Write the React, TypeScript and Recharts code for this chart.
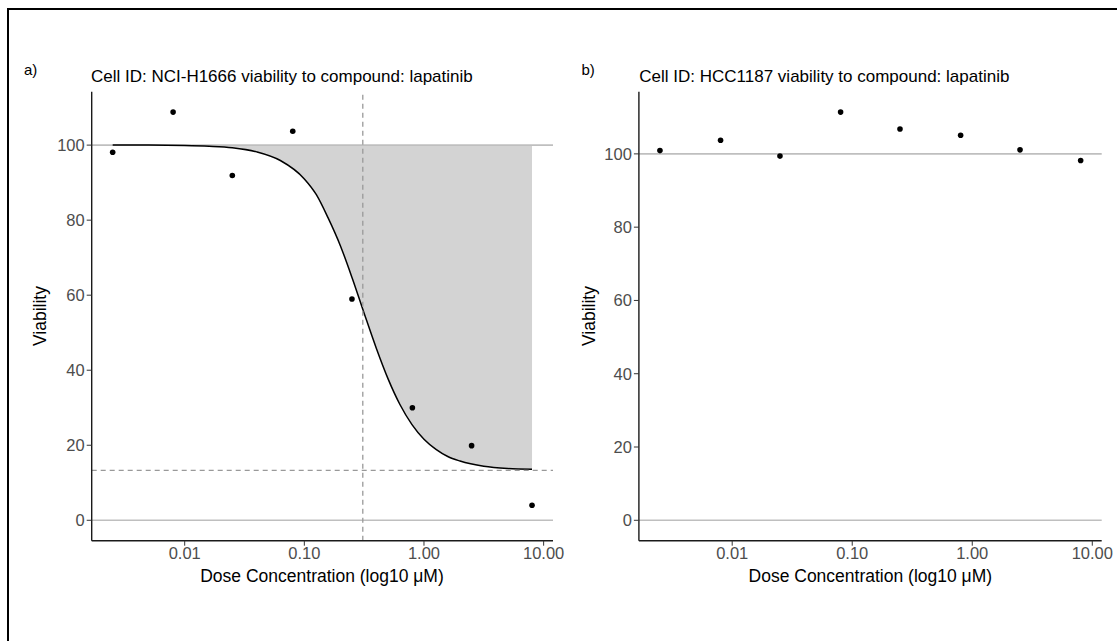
import {
  ComposedChart,
  Line,
  Area,
  Scatter,
  XAxis,
  YAxis,
  ReferenceLine,
} from 'recharts';

// doses in µM, same plate layout for both cell lines
const doses = [0.0025, 0.008, 0.025, 0.08, 0.25, 0.8, 2.5, 8];
const viabilityH1666 = [98.1, 108.8, 91.9, 103.7, 59.0, 30.0, 19.9, 4.0];
const viabilityHCC1187 = [100.9, 103.7, 99.4, 111.4, 106.8, 105.1, 101.1, 98.2];

// fitted curve for NCI-H1666
const fitDoses = [
  0.0025, 0.005, 0.01, 0.016, 0.025, 0.04, 0.063, 0.1, 0.126, 0.158, 0.2, 0.251,
  0.316, 0.398, 0.501, 0.631, 0.794, 1, 1.26, 1.58, 2, 3.16, 5.01, 8,
];
const fitH1666 = [
  100.0, 100.0, 99.9, 99.7, 99.3, 98.2, 95.9, 91.0, 86.8, 80.6, 73.2, 64.6,
  55.2, 46.0, 37.7, 30.8, 25.5, 21.6, 18.9, 17.0, 15.8, 14.4, 13.8, 13.6,
];
const ic50H1666 = 0.308;
const einfH1666 = 13.3;

const xTicks = [0.01, 0.1, 1, 10];
const yTicks = [0, 20, 40, 60, 80, 100];

const FONT = 'Arial, "Liberation Sans", Helvetica, sans-serif';
const AXIS = '#1a1a1a';
const TICK_TEXT = '#4d4d4d';
const TICK_SIZE = 16.5;
const HLINE = '#bfbfbf';
const DASH = '#999999';

// ggplot-style 5% expansion, x on log10
function logDomain(xs: number[]): [number, number] {
  const lo = Math.log10(Math.min(...xs));
  const hi = Math.log10(Math.max(...xs));
  const pad = (hi - lo) * 0.05;
  return [10 ** (lo - pad), 10 ** (hi + pad)];
}

function linDomain(ys: number[]): [number, number] {
  const lo = Math.min(0, ...ys);
  const hi = Math.max(100, ...ys);
  const pad = (hi - lo) * 0.05;
  return [lo - pad, hi + pad];
}

const Dot = (p: any) => <circle cx={p.cx} cy={p.cy} r={2.8} fill="#000" />;

const XTick = ({ x, y, payload }: any) => (
  <text x={x} y={y} dy="0.71em" textAnchor="middle" fill={TICK_TEXT} fontSize={TICK_SIZE} fontFamily={FONT}>
    {Number(payload.value).toFixed(2)}
  </text>
);

const YTick = ({ x, y, payload }: any) => (
  <text x={x} y={y} dy="0.355em" textAnchor="end" fill={TICK_TEXT} fontSize={TICK_SIZE} fontFamily={FONT}>
    {payload.value}
  </text>
);

interface PanelProps {
  left: number;
  top: number;
  width: number;
  height: number;
  yAxisWidth: number;
  marginTop: number;
  marginRight: number;
  viability: number[];
  fit?: number[];
  ic50?: number;
  einf?: number;
}

function Panel({
  left,
  top,
  width,
  height,
  yAxisWidth,
  marginTop,
  marginRight,
  viability,
  fit,
  ic50,
  einf,
}: PanelProps) {
  const points = doses.map((d, i) => ({ dose: d, v: viability[i] }));
  const fitRows = fit
    ? fitDoses.map((d, i) => ({ dose: d, fit: fit[i], band: [fit[i], 100] }))
    : [];
  const xDomain = logDomain(doses);
  const yDomain = linDomain(viability);
  const xAxisHeight = height - marginTop - 449;

  return (
    <div style={{ position: 'absolute', left, top }}>
      <ComposedChart
        width={width}
        height={height}
        margin={{ top: marginTop, right: marginRight, bottom: 0, left: 0 }}
      >
        <XAxis
          dataKey="dose"
          type="number"
          scale="log"
          domain={xDomain}
          allowDataOverflow
          ticks={xTicks}
          tick={<XTick />}
          tickSize={5}
          tickMargin={2}
          height={xAxisHeight}
          axisLine={{ stroke: AXIS, strokeWidth: 1.4 }}
          tickLine={{ stroke: '#333' }}
        />
        <YAxis
          type="number"
          domain={yDomain}
          allowDataOverflow
          ticks={yTicks}
          tick={<YTick />}
          tickSize={5}
          tickMargin={2}
          width={yAxisWidth}
          axisLine={{ stroke: AXIS, strokeWidth: 1.4 }}
          tickLine={{ stroke: '#333' }}
        />
        <ReferenceLine y={0} stroke={HLINE} strokeWidth={1.6} />
        <ReferenceLine y={100} stroke={HLINE} strokeWidth={1.6} />
        {fit && (
          <Area
            data={fitRows}
            dataKey="band"
            type="monotone"
            fill="#d3d3d3"
            fillOpacity={1}
            stroke="none"
            isAnimationActive={false}
          />
        )}
        {fit && (
          <Line
            data={fitRows}
            dataKey="fit"
            type="monotone"
            stroke="#000"
            strokeWidth={1.5}
            dot={false}
            activeDot={false}
            isAnimationActive={false}
          />
        )}
        {typeof ic50 === 'number' && (
          <ReferenceLine x={ic50} stroke={DASH} strokeWidth={1.3} strokeDasharray="5 4" />
        )}
        {typeof einf === 'number' && (
          <ReferenceLine y={einf} stroke={DASH} strokeWidth={1.3} strokeDasharray="5 4" />
        )}
        <Scatter data={points} dataKey="v" shape={Dot} isAnimationActive={false} />
      </ComposedChart>
    </div>
  );
}

export default function App() {
  return (
    <div
      style={{
        position: 'absolute',
        left: 0,
        top: 0,
        width: 1117,
        height: 641,
        overflow: 'hidden',
        background: '#fff',
        fontFamily: FONT,
      }}
    >
      <div
        style={{
          position: 'absolute',
          left: 7,
          top: 8,
          width: 1200,
          height: 700,
          borderLeft: '2px solid #000',
          borderTop: '2px solid #000',
        }}
      />
      <Panel
        left={40}
        top={80}
        width={545}
        height={520}
        yAxisWidth={51.7}
        marginTop={11.7}
        marginRight={32}
        viability={viabilityH1666}
        fit={fitH1666}
        ic50={ic50H1666}
        einf={einfH1666}
      />
      <Panel
        left={587}
        top={80}
        width={545}
        height={520}
        yAxisWidth={51.9}
        marginTop={11.7}
        marginRight={30.3}
        viability={viabilityHCC1187}
      />
      <svg
        width={1117}
        height={641}
        style={{ position: 'absolute', left: 0, top: 0, pointerEvents: 'none' }}
        fontFamily={FONT}
      >
        <text x={24} y={75} fontSize={15} fill="#000">a)</text>
        <text x={91} y={82} fontSize={17} fill="#000">
          Cell ID: NCI-H1666 viability to compound: lapatinib
        </text>
        <text x={581.5} y={75} fontSize={15} fill="#000">b)</text>
        <text x={639.3} y={82} fontSize={17} fill="#000">
          Cell ID: HCC1187 viability to compound: lapatinib
        </text>
        <text x={46} y={316} fontSize={17.5} textAnchor="middle" transform="rotate(-90 46 316)">
          Viability
        </text>
        <text x={595} y={316} fontSize={17.5} textAnchor="middle" transform="rotate(-90 595 316)">
          Viability
        </text>
        <text x={322} y={582} fontSize={17.5} textAnchor="middle">
          Dose Concentration (log10 μM)
        </text>
        <text x={870.3} y={582} fontSize={17.5} textAnchor="middle">
          Dose Concentration (log10 μM)
        </text>
      </svg>
    </div>
  );
}
